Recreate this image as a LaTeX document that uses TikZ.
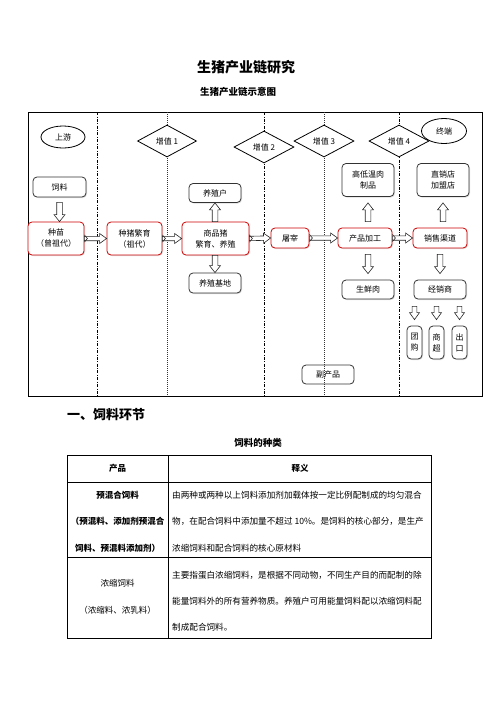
\documentclass[tikz,border=0pt]{standalone}
\usepackage{fontspec}
\setmainfont{Noto Sans CJK SC}
\usetikzlibrary{shapes.geometric,calc,shadows}
\tikzset{
  frm/.style={draw=black, line width=0.9pt},
  vline/.style={line width=0.6pt, dash pattern=on 3pt off 1.5pt on 0.8pt off 1.5pt},
  vdot/.style={line width=0.6pt, dash pattern=on 1.2pt off 0.8pt, draw=black!80},
  sbox/.style={draw=black!80, line width=0.8pt, rounded corners=4pt, fill=white,
     font=\fontsize{8}{11}\selectfont, align=center, inner sep=1pt,
     drop shadow={opacity=0.25, shadow xshift=1pt, shadow yshift=-1pt}},
  rbox/.style={sbox, draw=red!80!black},
  dia/.style={diamond, draw=black, line width=0.8pt, fill=white, aspect=1.85,
     inner sep=0pt, font=\fontsize{8}{10}\selectfont},
  ell/.style={ellipse, draw=black, line width=0.8pt, fill=white, inner sep=0pt,
     font=\fontsize{8}{10}\selectfont},
  arr/.style={draw=black!85, line width=0.6pt, fill=white, line join=miter},
  ttl/.style={font=\bfseries\fontsize{8.5}{10}\selectfont},
  txt/.style={font=\fontsize{8.6}{10}\selectfont, anchor=west, inner sep=0pt},
}
% block arrow: #2 start, #3 tip, #4 shaft half width, #5 head half width
\newcommand\blk[5][]{%
\draw[arr,#1] let \p1=(#2), \p2=(#3), \n1={atan2(\y2-\y1,\x2-\x1)}, \n2={veclen(\x2-\x1,\y2-\y1)} in
 ($(\p1)+(\n1+90:#4)$) -- ($(\p1)+(\n1:{\n2*1pt-7pt})+(\n1+90:#4)$)
 -- ($(\p1)+(\n1:{\n2*1pt-7pt})+(\n1+90:#5)$) -- (\p2)
 -- ($(\p1)+(\n1:{\n2*1pt-7pt})+(\n1-90:#5)$) -- ($(\p1)+(\n1:{\n2*1pt-7pt})+(\n1-90:#4)$)
 -- ($(\p1)+(\n1-90:#4)$) -- cycle;}
% block arrow with a chevron tail
\newcommand\blkt[5][]{%
\blk[#1]{#2}{#3}{#4}{#5}%
\draw[arr, fill=none] let \p1=(#2), \p2=(#3), \n1={atan2(\y2-\y1,\x2-\x1)} in
 ($(\p1)+(\n1+90:3.6pt)$) -- ($(\p1)+(\n1:3pt)$) -- ($(\p1)+(\n1-90:3.6pt)$);}
\begin{document}
\begin{tikzpicture}[x=1pt,y=-1pt]
\useasboundingbox (0,0) rectangle (496,702);
% titles
\node[font=\bfseries\fontsize{14}{16}\selectfont] (title) at (246,67) {生猪产业链研究};
\node[font=\bfseries\fontsize{9.5}{11}\selectfont] (sub) at (238,92) {生猪产业链示意图};
% frame and separators
\draw[frm] (28,112) rectangle (482,396);
\draw[vline] (97,112) -- (97,396);
\draw[vdot] (167,112) -- (167,396);
\draw[vline] (264,112) -- (264,396);
\draw[vdot] (324,112) -- (324,396);
\draw[vline] (399,112) -- (399,396);
% headers
\node[ell, minimum width=44pt, minimum height=22pt] (up) at (63,137) {上游};
\node[dia, minimum width=59pt, minimum height=32pt] (z1) at (167,141) {增值 1};
\node[dia, minimum width=60pt, minimum height=32pt] (z2) at (264,147) {增值 2};
\node[dia, minimum width=60pt, minimum height=32pt] (z3) at (324,141) {增值 3};
\node[dia, minimum width=60pt, minimum height=32pt] (z4) at (399,141) {增值 4};
\node[ell, minimum width=45pt, minimum height=25pt] (end) at (444,131) {终端};
% main chain
\node[rbox, minimum width=56pt, minimum height=33pt] (zm) at (56,238.5) {种苗\\（曾祖代）};
\node[rbox, minimum width=55pt, minimum height=33pt] (zz) at (134.5,238.5) {种猪繁育\\（祖代）};
\node[rbox, minimum width=67pt, minimum height=33pt] (sp) at (215.5,238.5) {商品猪\\繁育、养殖};
\node[rbox, minimum width=38pt, minimum height=20pt] (tz) at (290,238) {屠宰};
\node[rbox, minimum width=54pt, minimum height=20pt] (jg) at (365,238) {产品加工};
\node[rbox, minimum width=54pt, minimum height=20pt] (xs) at (440,238) {销售渠道};
% side boxes
\node[sbox, minimum width=53pt, minimum height=20pt] (sl) at (59.5,187) {饲料};
\node[sbox, minimum width=52pt, minimum height=19pt] (yzh) at (215,193) {养殖户};
\node[sbox, minimum width=52pt, minimum height=20pt] (yzjd) at (215,283) {养殖基地};
\node[sbox, minimum width=52pt, minimum height=33pt] (gdw) at (368,180) {高低温肉\\制品};
\node[sbox, minimum width=52pt, minimum height=33pt] (zxd) at (443,180) {直销店\\加盟店};
\node[sbox, minimum width=52pt, minimum height=19pt] (sxr) at (368,289.5) {生鲜肉};
\node[sbox, minimum width=52pt, minimum height=19pt] (jxs) at (440,289.5) {经销商};
\node[sbox, minimum width=15pt, minimum height=33pt, text width=9pt] (tg) at (414.5,342.5) {团\\购};
\node[sbox, minimum width=15pt, minimum height=33pt, text width=9pt] (sc) at (436.5,342.5) {商\\超};
\node[sbox, minimum width=15pt, minimum height=33pt, text width=9pt] (ck) at (459.5,342.5) {出\\口};
\node[draw=black!80, line width=0.8pt, rounded corners=4pt, font=\fontsize{8}{11}\selectfont,
      minimum width=52pt, minimum height=19pt] (fcp) at (328,374.5) {副产品};
% horizontal chain arrows
\blkt{zm.east}{zz.west}{2.2pt}{5pt}
\blkt{zz.east}{sp.west}{2.2pt}{5pt}
\blkt{sp.east}{tz.west}{2.2pt}{5pt}
\blkt{tz.east}{jg.west}{2.2pt}{5pt}
\blkt{jg.east}{xs.west}{2.2pt}{5pt}
% vertical arrows
\blk{$(sl.south)+(0,5)$}{sl.south |- zm.north}{2.8pt}{5.5pt}
\blk{sp.north -| yzh.south}{yzh.south}{2.8pt}{5.5pt}
\blk{sp.south -| yzjd.north}{yzjd.north}{2.8pt}{5.5pt}
\blk{$(jg.north -| gdw.south)+(0,-6)$}{$(gdw.south)+(0,6)$}{2.8pt}{5.5pt}
\blk{$(jg.south -| sxr.north)+(0,6)$}{$(sxr.north)+(0,-6)$}{2.8pt}{5.5pt}
\blk{$(xs.north -| zxd.south)+(0,-6)$}{$(zxd.south)+(0,6)$}{2.8pt}{5.5pt}
\blk{$(xs.south -| jxs.north)+(0,6)$}{$(jxs.north)+(0,-6)$}{2.8pt}{5.5pt}
\blk{$(jxs.south -| tg.north)+(0,7)$}{$(tg.north)+(0,-6)$}{2.4pt}{5pt}
\blk{$(jxs.south -| sc.north)+(0,7)$}{$(sc.north)+(0,-6)$}{2.4pt}{5pt}
\blk{$(jxs.south -| ck.north)+(0,7)$}{$(ck.north)+(0,-6)$}{2.4pt}{5pt}
% section heading
\node[font=\bfseries\fontsize{13}{15}\selectfont, anchor=west, inner sep=0pt] (sec) at (67,415) {一、饲料环节};
\node[font=\bfseries\fontsize{9.5}{11}\selectfont] (tcap) at (258,443) {饲料的种类};
% table
\draw[line width=0.8pt] (67,455) rectangle (431,638);
\draw[line width=0.8pt] (67,482) -- (431,482);
\draw[line width=0.8pt] (67,557) -- (431,557);
\draw[line width=0.8pt] (168,455) -- (168,638);
\node[ttl] (h1) at (117.5,468.5) {产品};
\node[ttl] (h2) at (300,468.5) {释义};
\node[ttl] (a1) at (117.5,495) {预混合饲料};
\node[ttl] (a2) at (117.5,521.5) {（预混料、添加剂预混合};
\node[ttl] (a3) at (117.5,548) {饲料、预混料添加剂）};
\node[txt] (b1) at (172,495) {由两种或两种以上饲料添加剂加载体按一定比例配制成的均匀混合};
\node[txt] (b2) at (172,521.5) {物，在配合饲料中添加量不超过 10\%。是饲料的核心部分，是生产};
\node[txt] (b3) at (172,548) {浓缩饲料和配合饲料的核心原材料};
\node[font=\fontsize{8.5}{10}\selectfont] (c1) at (117.5,583) {浓缩饲料};
\node[font=\fontsize{8.5}{10}\selectfont] (c2) at (117.5,610) {（浓缩料、浓乳料）};
\node[txt] (d1) at (172,575) {主要指蛋白浓缩饲料，是根据不同动物，不同生产目的而配制的除};
\node[txt] (d2) at (172,601) {能量饲料外的所有营养物质。养殖户可用能量饲料配以浓缩饲料配};
\node[txt] (d3) at (172,627) {制成配合饲料。};
\end{tikzpicture}
\end{document}
